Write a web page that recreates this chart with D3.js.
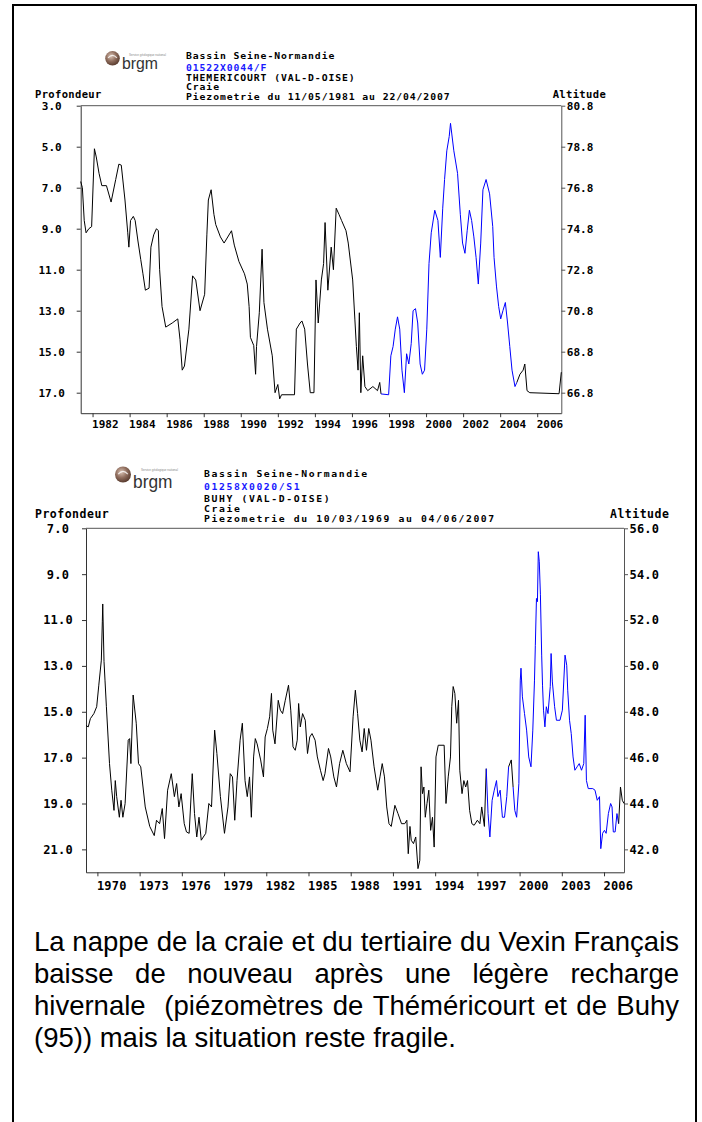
<!DOCTYPE html>
<html><head><meta charset="utf-8">
<script src="https://cdn.jsdelivr.net/npm/d3@7"></script>
<style>body{margin:0;background:#fff}svg{display:block}</style>
</head><body>
<svg id="c" width="702" height="1122"></svg>
<script>
// ---------- DATA ----------
const topHeader = ["Bassin Seine-Normandie","01522X0044/F","THEMERICOURT (VAL-D-OISE)","Craie","Piezometrie du 11/05/1981 au 22/04/2007"];
const topDateRange = [1981.36, 2007.30];
const topXTicks = [1982,1984,1986,1988,1990,1992,1994,1996,1998,2000,2002,2004,2006];
const topDepthTicks = [3,5,7,9,11,13,15,17];
const topAltTicks = [80.8,78.8,76.8,74.8,72.8,70.8,68.8,66.8];
const topBlue = [[1997.57, 2004.95]];
const topYears = [1981.36,1981.45,1981.55,1981.65,1981.8,1981.95,1982.1,1982.2,1982.35,1982.5,1982.75,1983.0,1983.25,1983.42,1983.55,1983.75,1983.9,1983.96,1984.05,1984.2,1984.3,1984.45,1984.6,1984.72,1984.85,1985.05,1985.15,1985.3,1985.45,1985.55,1985.62,1985.75,1985.95,1986.3,1986.6,1986.72,1986.84,1986.96,1987.2,1987.4,1987.57,1987.8,1988.05,1988.17,1988.25,1988.4,1988.55,1988.65,1988.9,1989.1,1989.5,1989.65,1989.9,1990.2,1990.35,1990.45,1990.52,1990.7,1990.8,1990.85,1991.0,1991.15,1991.25,1991.44,1991.7,1991.85,1992.0,1992.1,1992.2,1992.9,1993.0,1993.2,1993.3,1993.45,1993.6,1993.75,1993.95,1994.06,1994.18,1994.35,1994.47,1994.55,1994.7,1994.88,1995.0,1995.15,1995.3,1995.44,1995.68,1995.8,1996.04,1996.16,1996.24,1996.33,1996.4,1996.48,1996.58,1996.7,1996.85,1997.13,1997.38,1997.5,1997.57,1997.98,1998.1,1998.22,1998.34,1998.46,1998.58,1998.7,1998.83,1998.95,1999.07,1999.2,1999.3,1999.43,1999.55,1999.68,1999.8,1999.92,2000.04,2000.16,2000.28,2000.47,2000.64,2000.77,2000.9,2001.0,2001.12,2001.25,2001.32,2001.5,2001.7,2001.85,2001.97,2002.1,2002.22,2002.34,2002.46,2002.58,2002.7,2002.82,2002.95,2003.07,2003.24,2003.43,2003.6,2003.67,2003.8,2003.92,2004.03,2004.15,2004.28,2004.4,2004.52,2004.64,2004.8,2004.9,2005.07,2005.24,2005.33,2005.45,2005.6,2007.18,2007.3];
const topDepth = [6.7,7.0,8.6,9.2,9.0,8.9,5.1,5.5,6.3,6.9,6.9,7.7,6.6,5.85,5.9,7.6,9.2,9.9,8.6,8.4,8.6,9.6,10.5,11.2,12.0,11.9,9.9,9.3,9.0,9.1,11.0,12.8,13.8,13.6,13.4,14.4,15.9,15.7,13.9,11.3,11.5,13.0,12.2,9.3,7.6,7.1,8.3,8.8,9.4,9.7,9.1,9.8,10.6,11.2,11.7,12.8,14.3,14.7,16.1,14.75,13.1,10.0,12.6,13.9,15.2,17.0,16.6,17.3,17.1,17.1,13.9,13.6,13.5,13.9,15.6,17.0,17.0,11.5,13.6,11.5,10.7,8.7,12.0,9.9,11.0,8.0,8.3,8.6,9.1,9.7,11.5,13.45,14.75,15.9,13.1,17.0,15.2,16.7,16.9,16.7,16.9,16.5,17.06,17.1,15.2,14.75,13.9,13.3,13.9,15.9,17.0,15.1,15.6,14.6,13.0,12.9,13.6,15.6,16.1,15.9,13.9,10.7,9.2,8.1,8.6,10.4,8.0,6.6,5.2,4.5,3.86,5.2,6.3,8.3,9.7,10.2,9.1,8.1,8.6,9.4,10.4,11.7,9.7,7.1,6.6,7.3,8.9,10.4,11.8,12.8,13.4,13.0,12.6,13.6,14.75,15.9,16.7,16.5,16.1,15.9,15.6,16.9,17.0,17.05,16.0];

const botHeader = ["Bassin Seine-Normandie","01258X0020/S1","BUHY (VAL-D-OISE)","Craie","Piezometrie du 10/03/1969 au 04/06/2007"];
const botDateRange = [1969.19, 2007.42];
const botXTicks = [1970,1973,1976,1979,1982,1985,1988,1991,1994,1997,2000,2003,2006];
const botDepthTicks = [7,9,11,13,15,17,19,21];
const botAltTicks = [56,54,52,50,48,46,44,42];
const botBlue = [[1997.57, 1999.16],[1999.5, 2007.1]];
const botYears = [1969.19,1969.35,1969.5,1969.75,1969.95,1970.1,1970.28,1970.35,1970.38,1970.47,1970.54,1970.64,1970.86,1971.02,1971.18,1971.27,1971.37,1971.56,1971.68,1971.81,1971.97,1972.19,1972.29,1972.38,1972.54,1972.76,1972.92,1973.08,1973.4,1973.72,1974.04,1974.2,1974.42,1974.61,1974.77,1974.99,1975.25,1975.47,1975.63,1975.79,1975.95,1976.17,1976.33,1976.52,1976.74,1976.9,1977.06,1977.22,1977.38,1977.7,1977.92,1978.11,1978.33,1978.49,1978.74,1979.03,1979.28,1979.44,1979.6,1979.76,1979.92,1980.14,1980.3,1980.49,1980.65,1980.81,1980.94,1981.1,1981.22,1981.35,1981.6,1981.8,1981.92,1982.08,1982.24,1982.37,1982.46,1982.62,1982.85,1983.0,1983.16,1983.35,1983.58,1983.74,1983.9,1984.06,1984.2,1984.3,1984.42,1984.58,1984.77,1984.93,1985.09,1985.25,1985.47,1985.63,1985.85,1986.04,1986.17,1986.42,1986.58,1986.8,1986.99,1987.21,1987.44,1987.69,1987.95,1988.17,1988.33,1988.49,1988.65,1988.81,1988.96,1989.12,1989.28,1989.44,1989.66,1989.92,1990.08,1990.24,1990.4,1990.56,1990.72,1990.88,1991.14,1991.36,1991.61,1991.84,1991.99,1992.09,1992.21,1992.3,1992.46,1992.62,1992.78,1992.91,1993.0,1993.1,1993.2,1993.3,1993.42,1993.55,1993.68,1993.81,1993.93,1994.06,1994.22,1994.64,1994.77,1994.93,1995.09,1995.18,1995.28,1995.4,1995.53,1995.66,1995.75,1995.91,1996.04,1996.17,1996.3,1996.45,1996.61,1996.77,1997.0,1997.18,1997.31,1997.5,1997.63,1997.76,1997.89,1998.05,1998.2,1998.36,1998.46,1998.62,1998.78,1998.93,1999.09,1999.22,1999.41,1999.54,1999.66,1999.79,1999.95,2000.05,2000.1,2000.2,2000.35,2000.5,2000.65,2000.81,2000.94,2001.06,2001.12,2001.2,2001.27,2001.33,2001.4,2001.48,2001.57,2001.63,2001.7,2001.8,2001.9,2002.02,2002.18,2002.24,2002.33,2002.49,2002.62,2002.87,2003.04,2003.23,2003.35,2003.42,2003.55,2003.67,2003.8,2003.93,2004.09,2004.24,2004.4,2004.56,2004.66,2004.75,2004.88,2005.2,2005.36,2005.52,2005.68,2005.77,2005.9,2006.03,2006.15,2006.31,2006.47,2006.57,2006.66,2006.79,2006.92,2007.04,2007.17,2007.3,2007.42];
const botDepth = [15.6,15.66,15.3,15.08,14.78,13.84,12.75,11.08,10.3,12.8,13.62,14.78,17.26,18.42,19.3,18.0,18.7,19.6,18.86,19.6,19.0,16.24,16.17,17.26,14.27,15.5,17.26,17.4,19.15,20.0,20.4,19.73,19.88,19.22,20.53,18.42,17.7,18.7,18.13,19.15,18.57,19.88,20.24,20.3,17.7,19.44,20.46,19.6,20.6,20.3,19.0,19.15,15.8,16.82,18.7,20.3,19.15,17.7,17.84,19.73,18.0,16.24,15.5,18.0,18.7,17.84,19.6,16.97,16.17,16.4,17.1,17.84,16.1,15.73,15.22,14.2,15.8,16.4,14.5,14.93,15.08,14.5,13.84,14.93,16.53,16.68,16.24,14.64,15.66,15.08,15.37,16.82,16.1,15.95,16.24,16.97,17.55,18.0,17.7,16.6,16.97,17.84,18.28,17.26,16.68,17.26,17.62,15.22,14.06,15.08,16.24,16.75,15.73,16.68,15.73,16.24,17.4,18.42,17.84,17.26,17.84,19.15,19.88,20.0,19.08,19.44,19.88,19.88,19.73,21.19,20.0,20.6,20.75,20.46,21.84,21.48,17.4,18.57,18.28,19.6,19.0,18.42,20.17,19.6,20.9,16.97,16.46,16.46,19.0,17.84,16.97,14.78,13.9,14.2,15.5,14.5,17.55,18.57,18.0,18.28,18.0,19.3,19.88,19.95,19.73,19.88,19.15,20.0,17.48,19.44,20.46,18.86,18.42,18.0,18.7,18.42,19.6,19.6,18.7,17.4,17.1,18.28,19.3,19.6,18.13,13.62,13.1,14.35,15.08,15.8,16.97,17.4,15.8,13.62,12.1,10.06,10.2,8.02,8.46,9.9,12.53,13.84,14.93,15.66,14.78,15.08,13.9,12.46,13.7,14.78,15.37,15.37,14.93,12.53,12.97,14.06,15.37,15.95,16.97,17.55,17.4,17.26,17.55,17.26,15.15,18.0,18.35,18.35,18.42,18.86,18.7,20.97,20.3,20.17,20.3,19.44,19.0,19.15,20.24,20.24,19.44,19.88,18.28,18.86,19.0];

const paragraph = [
  "La nappe de la craie et du tertiaire du Vexin Français",
  "baisse de nouveau après une légère recharge",
  "hivernale  (piézomètres de Théméricourt et de Buhy",
  "(95)) mais la situation reste fragile."
];

// ---------- DRAW ----------
const svg = d3.select("#c");
const MONO = "'DejaVu Sans Mono', monospace";
svg.append("rect").attr("width",702).attr("height",1122).attr("fill","#fff");
svg.append("rect").attr("x",13).attr("y",5).attr("width",683).attr("height",1140)
  .attr("fill","none").attr("stroke","#000").attr("stroke-width",2);

const defs = svg.append("defs");
const rg = defs.append("radialGradient").attr("id","ball").attr("cx","40%").attr("cy","35%").attr("r","65%");
rg.append("stop").attr("offset","0%").attr("stop-color","#d9c2b4");
rg.append("stop").attr("offset","55%").attr("stop-color","#8e6c5c");
rg.append("stop").attr("offset","100%").attr("stop-color","#5a3d30");

function logo(cx, cy, r, bx, by, bsize, bw, tx, ty) {
  svg.append("circle").attr("cx",cx).attr("cy",cy).attr("r",r).attr("fill","url(#ball)");
  svg.append("path").attr("d",`M${cx-r*0.6},${cy-r*0.05} Q${cx},${cy-r*0.75} ${cx+r*0.6},${cy-r*0.05}`)
    .attr("fill","none").attr("stroke","#fff").attr("stroke-width",1.2).attr("opacity",0.8);
  svg.append("text").attr("x",bx).attr("y",by).attr("textLength",bw).attr("lengthAdjust","spacingAndGlyphs")
    .style("font-family","'Liberation Sans Narrow','Liberation Sans',Arial,sans-serif")
    .style("font-size",bsize+"px").attr("fill","#333").text("brgm");
  svg.append("text").attr("x",tx).attr("y",ty).style("font-family","'Liberation Sans',sans-serif")
    .style("font-size","3px").attr("fill","#888").text("Service géologique national");
}

function chart(c) {
  const x = d3.scaleLinear().domain(c.dates).range([c.L, c.R]);
  const y = d3.scaleLinear().domain(c.depthDomain).range([c.T, c.B]);
  const yAlt = d3.scaleLinear().domain(c.altDomain).range([c.T, c.B]);
  const g = svg.append("g");

  // header (wide bitmap-like glyphs: horizontal stretch)
  c.header.forEach((h,i)=>{
    g.append("text").attr("transform",`translate(${c.hx},${c.hy[i]}) scale(${c.hsx},1)`).text(h)
      .style("font-family",MONO).style("font-weight","bold").style("font-size",c.hfs+"px")
      .style("letter-spacing",c.hls+"px").attr("fill", i===1 ? "#1a1aff" : "#000");
  });
  g.append("text").attr("x",35).attr("y",c.labY).text("Profondeur")
    .style("font-family",MONO).style("font-weight","bold").style("font-size",c.lfs+"px").style("letter-spacing",c.lls+"px");
  g.append("text").attr("x",c.altX).attr("y",c.labY).text("Altitude")
    .style("font-family",MONO).style("font-weight","bold").style("font-size",c.lfs+"px").style("letter-spacing",c.lls+"px");

  // frame top
  g.append("line").attr("x1",c.L).attr("x2",c.R).attr("y1",c.T).attr("y2",c.T).attr("stroke","#555");

  const fmt = d3.format(".1f");
  const styleAxis = (a, col) => {
    a.attr("font-family",null).attr("font-size",null);
    a.select(".domain").attr("stroke",col);
    a.selectAll(".tick line").attr("stroke",col);
    a.selectAll("text").style("font-family",MONO).style("font-weight","bold")
      .style("font-size",c.tfs+"px").style("letter-spacing",c.tls+"px").attr("fill","#000");
  };
  const ax = g.append("g").attr("transform",`translate(0,${c.B})`)
    .call(d3.axisBottom(x).tickValues(c.xTicks).tickFormat(d3.format("d")).tickSize(4).tickSizeOuter(0));
  styleAxis(ax,"#333");
  ax.selectAll("text").attr("text-anchor","start").attr("x",-1).attr("dy",null).attr("y",c.xLabY);

  const al = g.append("g").attr("transform",`translate(${c.L},0)`)
    .call(d3.axisLeft(y).tickValues(c.yTicks).tickFormat(fmt).tickSize(4).tickSizeOuter(0));
  styleAxis(al,"#333");
  al.selectAll("text").attr("text-anchor","middle").attr("x",c.yLabCx - c.L);

  const ar = g.append("g").attr("transform",`translate(${c.R},0)`)
    .call(d3.axisRight(yAlt).tickValues(c.altTicks).tickFormat(fmt).tickSize(4).tickSizeOuter(0));
  styleAxis(ar,"#555");
  ar.selectAll("text").attr("x",5.5);

  // series split by colour
  const pts = c.years.map((yr,i)=>({yr, d:c.depth[i]}));
  const isBlue = v => c.blue.some(([a,b]) => v>=a && v<=b);
  const runs = [];
  for (let i=0;i<pts.length-1;i++){
    const col = isBlue((pts[i].yr+pts[i+1].yr)/2) ? "#0000ff" : "#000";
    if (!runs.length || runs[runs.length-1].col!==col) runs.push({col, p:[pts[i]]});
    runs[runs.length-1].p.push(pts[i+1]);
  }
  const line = d3.line().x(p=>x(p.yr)).y(p=>y(p.d));
  runs.forEach(r => g.append("path").attr("d",line(r.p)).attr("fill","none")
    .attr("stroke",r.col).attr("stroke-width",1).attr("stroke-linejoin","round"));
}

logo(112.5, 58.3, 7.3, 122, 69, 16, 36, 129, 55.5);
chart({
  header: topHeader, hx:186, hy:[58.5,71,80.5,90.3,100.3], hfs:8.5, hsx:1.15, hls:0.79,
  labY:97.6, altX:552.7, lfs:10.5, lls:0.35, tfs:11, tls:0,
  dates: topDateRange, depthDomain:[3,18], altDomain:[80.8,65.8],
  L:80.7, R:561.3, T:105.7, B:413.2,
  xTicks: topXTicks, yTicks: topDepthTicks, altTicks: topAltTicks,
  xLabY:14.8, yLabCx:51.7,
  years: topYears, depth: topDepth, blue: topBlue
});

logo(123, 474.5, 8, 133, 488, 17.5, 39.5, 141, 471);
chart({
  header: botHeader, hx:204, hy:[476.6,490,501.6,511.6,521.6], hfs:8.5, hsx:1.15, hls:1.4,
  labY:518, altX:610, lfs:11.5, lls:0.5, tfs:12, tls:0.2,
  dates: botDateRange, depthDomain:[7,22], altDomain:[56,41],
  L:86, R:624, T:528.3, B:872.3,
  xTicks: botXTicks, yTicks: botDepthTicks, altTicks: botAltTicks,
  xLabY:17.7, yLabCx:58,
  years: botYears, depth: botDepth, blue: botBlue
});

// paragraph, justified
const PX0 = 34, PX1 = 679, PFS = 27.5;
const measure = svg.append("text").style("font-family","'Liberation Sans',Arial,sans-serif")
  .style("font-size",PFS+"px").style("white-space","pre");
const wlen = s => { measure.text(s); return measure.node().getComputedTextLength(); };
const spW = wlen("a a") - wlen("aa");
paragraph.forEach((ln,i)=>{
  const by = 951 + i*32;
  const t = svg.append("text").attr("y",by).style("font-family","'Liberation Sans',Arial,sans-serif")
    .style("font-size",PFS+"px").attr("fill","#000");
  const toks = ln.split(" ");
  const nSp = toks.length-1;
  const wsum = toks.reduce((s,w)=>s+(w?wlen(w):0),0);
  const extra = i<paragraph.length-1 ? (PX1-PX0 - wsum - nSp*spW)/nSp : 0;
  let cx = PX0;
  toks.forEach((w,k)=>{
    if (w) t.append("tspan").attr("x",cx).text(w);
    cx += (w?wlen(w):0) + spW + extra;
  });
});
measure.remove();
</script>
</body></html>
